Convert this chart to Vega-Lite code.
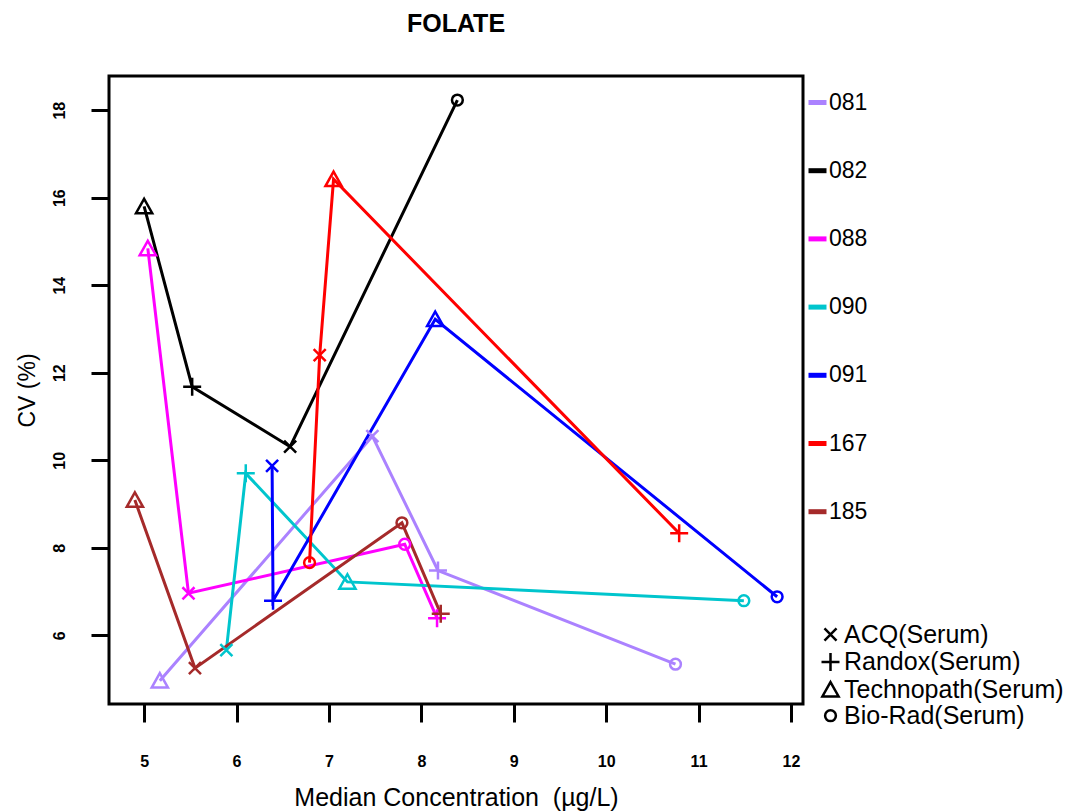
{
  "$schema": "https://vega.github.io/schema/vega-lite/v6.json",
  "autosize": "none",
  "width": 694,
  "height": 628,
  "padding": {"left": 109, "top": 76, "right": 265, "bottom": 107},
  "background": "white",
  "title": {"text": "FOLATE", "fontSize": 25, "fontWeight": "bold", "font": "Liberation Sans", "anchor": "middle", "offset": 39, "color": "black"},
  "config": {
    "font": "Liberation Sans",
    "view": {"stroke": "black", "strokeWidth": 3},
    "axis": {"grid": false, "domain": false, "tickColor": "black", "tickWidth": 3, "tickSize": 18, "labelColor": "black", "labelFont": "Liberation Sans", "labelFontWeight": "bold", "labelFontSize": 16, "titleFont": "Liberation Sans", "titleFontWeight": "normal", "titleFontSize": 25, "titleColor": "black"},
    "legend": {"padding": 0, "labelFont": "Liberation Sans", "labelColor": "black", "titlePadding": 0, "labelLimit": 0}
  },
  "data": {"values": [
    {"series": "081", "lab": "Technopath(Serum)", "x": 5.17, "y": 4.96},
    {"series": "081", "lab": "ACQ(Serum)", "x": 7.47, "y": 10.55},
    {"series": "081", "lab": "Randox(Serum)", "x": 8.18, "y": 7.48},
    {"series": "081", "lab": "Bio-Rad(Serum)", "x": 10.75, "y": 5.34},
    {"series": "082", "lab": "Technopath(Serum)", "x": 5.00, "y": 15.80},
    {"series": "082", "lab": "Randox(Serum)", "x": 5.52, "y": 11.68},
    {"series": "082", "lab": "ACQ(Serum)", "x": 6.58, "y": 10.31},
    {"series": "082", "lab": "Bio-Rad(Serum)", "x": 8.39, "y": 18.23},
    {"series": "088", "lab": "Technopath(Serum)", "x": 5.04, "y": 14.84},
    {"series": "088", "lab": "ACQ(Serum)", "x": 5.48, "y": 6.96},
    {"series": "088", "lab": "Bio-Rad(Serum)", "x": 7.82, "y": 8.08},
    {"series": "088", "lab": "Randox(Serum)", "x": 8.17, "y": 6.39},
    {"series": "090", "lab": "ACQ(Serum)", "x": 5.89, "y": 5.66},
    {"series": "090", "lab": "Randox(Serum)", "x": 6.10, "y": 9.70},
    {"series": "090", "lab": "Technopath(Serum)", "x": 7.20, "y": 7.22},
    {"series": "090", "lab": "Bio-Rad(Serum)", "x": 11.49, "y": 6.79},
    {"series": "091", "lab": "ACQ(Serum)", "x": 6.385, "y": 9.87},
    {"series": "091", "lab": "Randox(Serum)", "x": 6.395, "y": 6.79},
    {"series": "091", "lab": "Technopath(Serum)", "x": 8.15, "y": 13.22},
    {"series": "091", "lab": "Bio-Rad(Serum)", "x": 11.85, "y": 6.88},
    {"series": "167", "lab": "Bio-Rad(Serum)", "x": 6.79, "y": 7.66},
    {"series": "167", "lab": "ACQ(Serum)", "x": 6.90, "y": 12.40},
    {"series": "167", "lab": "Technopath(Serum)", "x": 7.05, "y": 16.42},
    {"series": "167", "lab": "Randox(Serum)", "x": 10.79, "y": 8.33},
    {"series": "185", "lab": "Technopath(Serum)", "x": 4.90, "y": 9.09},
    {"series": "185", "lab": "ACQ(Serum)", "x": 5.55, "y": 5.25},
    {"series": "185", "lab": "Bio-Rad(Serum)", "x": 7.79, "y": 8.57},
    {"series": "185", "lab": "Randox(Serum)", "x": 8.21, "y": 6.49}
  ]},
  "encoding": {
    "x": {"field": "x", "type": "quantitative",
      "scale": {"domain": [4.62, 12.13], "nice": false, "zero": false},
      "axis": {"values": [5, 6, 7, 8, 9, 10, 11, 12], "labelPadding": 31, "title": "Median Concentration \u00a0(µg/L)", "titleX": 347, "titleY": 93, "titleAlign": "center", "titleBaseline": "middle"}},
    "y": {"field": "y", "type": "quantitative",
      "scale": {"domain": [4.43, 18.78], "nice": false, "zero": false},
      "axis": {"values": [6, 8, 10, 12, 14, 16, 18], "labelAngle": -90, "labelAlign": "center", "labelBaseline": "bottom", "labelPadding": 24, "title": "CV (%)", "titleFontSize": 23, "titleAngle": -90, "titleX": -82, "titleY": 314, "titleAlign": "center", "titleBaseline": "middle"}}
  },
  "layer": [
    {
      "mark": {"type": "line", "strokeWidth": 3},
      "encoding": {
        "color": {"field": "series", "type": "nominal",
          "scale": {"domain": ["081", "082", "088", "090", "091", "167", "185"], "range": ["#AB82FF", "#000000", "#FF00FF", "#00C5CD", "#0000FF", "#FF0000", "#A52A2A"]},
          "legend": {"title": null, "orient": "none", "legendX": 697, "legendY": 15, "symbolType": "stroke", "symbolStrokeWidth": 5, "symbolSize": 324, "rowPadding": 44.2, "labelOffset": 0, "labelFontSize": 23}}
      }
    },
    {
      "mark": {"type": "point", "filled": false, "strokeWidth": 2.5, "size": 324, "opacity": 1},
      "encoding": {
        "stroke": {"field": "series", "type": "nominal",
          "scale": {"domain": ["081", "082", "088", "090", "091", "167", "185"], "range": ["#AB82FF", "#000000", "#FF00FF", "#00C5CD", "#0000FF", "#FF0000", "#A52A2A"]},
          "legend": null},
        "shape": {"field": "lab", "type": "nominal",
          "scale": {"domain": ["ACQ(Serum)", "Randox(Serum)", "Technopath(Serum)", "Bio-Rad(Serum)"],
            "range": ["M-0.67,-0.67L0.67,0.67M-0.67,0.67L0.67,-0.67", "M-1,0L1,0M0,-1L0,1", "M0,-0.85L0.9,0.75L-0.9,0.75Z", "M0.6,0A0.6,0.6,0,1,1,-0.6,0A0.6,0.6,0,1,1,0.6,0Z"]},
          "legend": {"title": null, "orient": "none", "legendX": 709, "legendY": 546, "symbolStrokeColor": "black", "symbolFillColor": "transparent", "symbolStrokeWidth": 2.5, "symbolSize": 324, "rowPadding": -0.4, "labelOffset": 1, "labelFontSize": 25}}
      }
    }
  ]
}
